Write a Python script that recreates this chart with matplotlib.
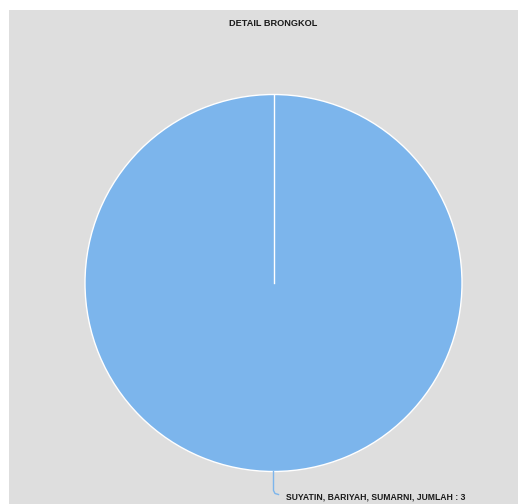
import matplotlib
matplotlib.use("Agg")
import matplotlib.pyplot as plt
from matplotlib.patches import Rectangle
import numpy as np

title = "DETAIL BRONGKOL"
labels = ["SUYATIN, BARIYAH, SUMARNI"]
values = [3]
colors = ["#7cb5ec"]

W, H = 518, 504
fig = plt.figure(figsize=(W / 100, H / 100), dpi=100)
fig.patch.set_facecolor("white")
ax = fig.add_axes([0, 0, 1, 1])
ax.set_xlim(0, W)
ax.set_ylim(0, H)
ax.set_aspect("equal")
ax.axis("off")

# background panel
ax.add_patch(Rectangle((9, 0), W - 9, H - 10, facecolor="#dedede", edgecolor="none", zorder=0))

cx, cy, r = 273.5, H - 283, 188.5
wedges, _ = ax.pie(values, colors=colors, startangle=90, counterclock=False,
                   radius=r, center=(cx, cy), frame=True,
                   wedgeprops=dict(edgecolor="white", linewidth=1))
ax.set_xlim(0, W)
ax.set_ylim(0, H)
ax.axis("off")

# slice boundary from centre to start angle
ax.plot([cx, cx], [cy, cy + r], color="white", lw=1, zorder=5)

# label with connector
ax.plot([cx, cx, cx + 1.5, cx + 5], [cy - r, cy - r - 19, cy - r - 22, cy - r - 23],
        color="#7cb5ec", lw=1, zorder=4)
ax.text(cx + 12, cy - r - 25.5, f"{labels[0]}, JUMLAH : {values[0]}",
        fontsize=6.2, fontweight="bold", family="Liberation Sans", color="#1a1a1a",
        ha="left", va="center")

ax.text(cx, H - 24, title, fontsize=6.6, fontweight="bold", family="Liberation Sans",
        color="#1a1a1a", ha="center", va="center")

fig.savefig("out.png", dpi=100)
